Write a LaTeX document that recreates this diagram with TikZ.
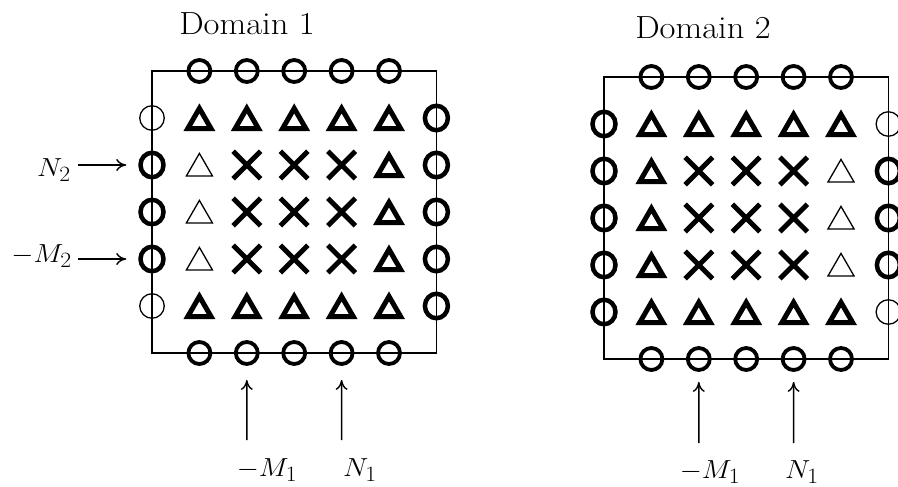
\documentclass[tikz,border=0pt]{standalone}
\usetikzlibrary{shapes.geometric,shapes.misc,arrows.meta}
\tikzset{
  cbig/.style={circle, draw, line width=3.8pt, minimum size=22pt, inner sep=0pt},
  cside/.style={ellipse, draw, line width=4.5pt, minimum width=23pt, minimum height=24.5pt, inner sep=0pt},
  cthin/.style={circle, draw, line width=1.3pt, minimum size=24.5pt, inner sep=0pt},
  tbold/.style={regular polygon, regular polygon sides=3, draw, line width=5pt, minimum size=27pt, inner sep=0pt, yshift=-3.9pt},
  tthin/.style={regular polygon, regular polygon sides=3, draw, line width=1.3pt, minimum size=30pt, inner sep=0pt, yshift=-3.4pt},
  xmark/.style={cross out, draw, line width=5pt, minimum size=22.5pt, inner sep=0pt},
  frame/.style={line width=1.5pt},
  ptr/.style={line width=1.4pt, -{To[length=10pt,width=12pt]}},
  title/.style={font=\fontsize{32}{38}\selectfont, inner sep=0pt},
  lbl/.style={font=\fontsize{32}{38}\selectfont, inner sep=0pt},
}
\newcommand\wide[1]{\scalebox{1.08}[1]{#1}}
\newcommand\mwide[1]{\scalebox{1.14}[1.05]{#1}}
\begin{document}
\begin{tikzpicture}[x=1pt,y=-1pt]
\useasboundingbox (0,0) rectangle (898,487);
\clip (0,0) rectangle (898,487);

% ---------- Domain 1 ----------
\node[title, anchor=base] (t1) at (247,35) {\wide{Domain 1}};
\begin{scope}[shift={(152,71)}]
  \draw[frame] (0,0) rectangle (284.4,282);
  \foreach \i in {1,...,5} {
    \node[cbig] (a-t\i) at (\i*47.4,0) {};
    \node[cbig] (a-b\i) at (\i*47.4,282) {};
  }
  \foreach \j in {1,5} \node[cthin] (a-l\j) at (0,\j*47) {};
  \foreach \j in {2,3,4} \node[cside] (a-l\j) at (0,\j*47) {};
  \foreach \j in {1,...,5} \node[cside] (a-r\j) at (284.4,\j*47) {};
  \foreach \j in {1,5} \foreach \i in {1,...,5} \node[tbold] (a-\i-\j) at (\i*47.4,\j*47) {};
  \foreach \j in {2,3,4} {
    \node[tthin] (a-1-\j) at (47.4,\j*47) {};
    \foreach \i in {2,3,4} \node[xmark] (a-\i-\j) at (\i*47.4,\j*47) {};
    \node[tbold] (a-5-\j) at (5*47.4,\j*47) {};
  }
\end{scope}
\node[lbl, anchor=base east] (n2) at (71,176) {\mwide{$N_2$}};
\node[lbl, anchor=base east] (m2) at (72,262) {\mwide{$-M_2$}};
\coordinate (n2s) at (78,165);
\coordinate (m2s) at (78,259);
\draw[ptr, shorten >=12pt] (n2s) -- (a-l2);
\draw[ptr, shorten >=12pt] (m2s) -- (a-l4);
\coordinate (am1s) at (246.8,440);
\coordinate (an1s) at (341.6,440);
\draw[ptr, shorten >=14pt] (am1s) -- (a-b2);
\draw[ptr, shorten >=14pt] (an1s) -- (a-b4);
\node[lbl, anchor=base] (am1) at (267,476) {\mwide{$-M_1$}};
\node[lbl, anchor=base] (an1) at (360,476) {\mwide{$N_1$}};

% ---------- Domain 2 ----------
\node[title, anchor=base] (t2) at (703,39) {\wide{Domain 2}};
\begin{scope}[shift={(604,77)}]
  \draw[frame] (0,0) rectangle (284.4,282);
  \foreach \i in {1,...,5} {
    \node[cbig] (b-t\i) at (\i*47.4,0) {};
    \node[cbig] (b-b\i) at (\i*47.4,282) {};
  }
  \foreach \j in {1,...,5} \node[cside] (b-l\j) at (0,\j*47) {};
  \foreach \j in {1,5} \node[cthin] (b-r\j) at (284.4,\j*47) {};
  \foreach \j in {2,3,4} \node[cside] (b-r\j) at (284.4,\j*47) {};
  \foreach \j in {1,5} \foreach \i in {1,...,5} \node[tbold] (b-\i-\j) at (\i*47.4,\j*47) {};
  \foreach \j in {2,3,4} {
    \node[tbold] (b-1-\j) at (47.4,\j*47) {};
    \foreach \i in {2,3,4} \node[xmark] (b-\i-\j) at (\i*47.4,\j*47) {};
    \node[tthin] (b-5-\j) at (5*47.4,\j*47) {};
  }
\end{scope}
\coordinate (bm1s) at (698.8,443);
\coordinate (bn1s) at (793.6,443);
\draw[ptr, shorten >=10pt] (bm1s) -- (b-b2);
\draw[ptr, shorten >=10pt] (bn1s) -- (b-b4);
\node[lbl, anchor=base] (bm1) at (710,478) {\mwide{$-M_1$}};
\node[lbl, anchor=base] (bn1) at (802,478) {\mwide{$N_1$}};
\end{tikzpicture}
\end{document}
